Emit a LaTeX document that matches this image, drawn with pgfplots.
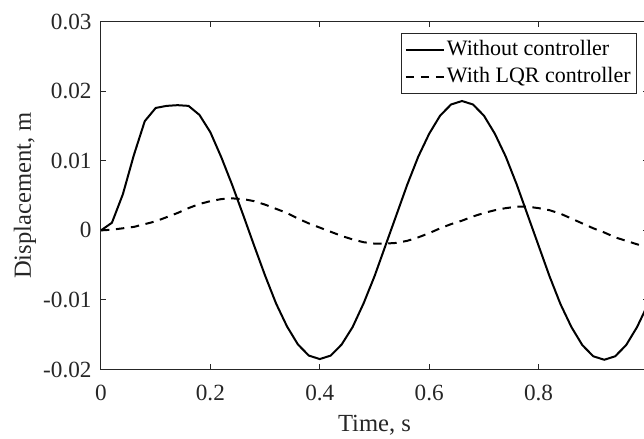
\documentclass[border=0pt]{standalone}
\usepackage{fontspec}
\setmainfont{Liberation Serif}
\usepackage{pgfplots}
\usepackage{pgfplotstable}
\pgfplotsset{compat=1.18}
\pgfplotstableread{
t d
0.00 0.0000
0.02 0.0011
0.04 0.0052
0.06 0.0108
0.08 0.0157
0.10 0.0176
0.12 0.0179
0.14 0.0180
0.16 0.0179
0.18 0.0166
0.20 0.0141
0.22 0.0105
0.24 0.0065
0.26 0.0022
0.28 -0.0022
0.30 -0.0065
0.32 -0.0105
0.34 -0.0138
0.36 -0.0164
0.38 -0.0180
0.40 -0.0185
0.42 -0.0180
0.44 -0.0164
0.46 -0.0139
0.48 -0.0105
0.50 -0.0066
0.52 -0.0022
0.54 0.0022
0.56 0.0066
0.58 0.0106
0.60 0.0139
0.62 0.0165
0.64 0.0181
0.66 0.0186
0.68 0.0181
0.70 0.0165
0.72 0.0139
0.74 0.0106
0.76 0.0066
0.78 0.0022
0.80 -0.0022
0.82 -0.0066
0.84 -0.0106
0.86 -0.0139
0.88 -0.0165
0.90 -0.0181
0.92 -0.0186
0.94 -0.0181
0.96 -0.0165
0.98 -0.0139
1.00 -0.0106
}\nocontrol
\pgfplotstableread{
t d
0.00 0.0000
0.02 0.0001
0.04 0.0003
0.06 0.0005
0.08 0.0009
0.10 0.0013
0.12 0.0019
0.14 0.0025
0.16 0.0032
0.18 0.0038
0.20 0.0042
0.22 0.0045
0.24 0.0046
0.26 0.0045
0.28 0.0042
0.30 0.0037
0.32 0.0031
0.34 0.0025
0.36 0.0017
0.38 0.0010
0.40 0.0004
0.42 -0.0002
0.44 -0.0008
0.46 -0.0013
0.48 -0.0017
0.50 -0.0019
0.52 -0.0019
0.54 -0.0018
0.56 -0.0015
0.58 -0.0010
0.60 -0.0004
0.62 0.0003
0.64 0.0009
0.66 0.0014
0.68 0.0020
0.70 0.0025
0.72 0.0029
0.74 0.0032
0.76 0.0034
0.78 0.0034
0.80 0.0032
0.82 0.0029
0.84 0.0024
0.86 0.0017
0.88 0.0010
0.90 0.0003
0.92 -0.0003
0.94 -0.0010
0.96 -0.0015
0.98 -0.0020
1.00 -0.0024
}\lqr
\begin{document}
\begin{tikzpicture}
\useasboundingbox (-50.5pt,-34.75pt) rectangle (271.5pt,184.75pt);
\begin{axis}[
  scale only axis, width=273.5pt, height=173.9pt,
  xmin=0, xmax=1, ymin=-0.02, ymax=0.03,
  scaled x ticks=false, scaled y ticks=false,
  xtick={0,0.2,0.4,0.6,0.8,1}, xticklabels={0,0.2,0.4,0.6,0.8,{}},
  ytick={-0.02,-0.01,0,0.01,0.02,0.03}, yticklabels={-0.02,-0.01,0,0.01,0.02,0.03},
  tick align=inside, major tick length=2.7pt,
  axis line style={black!85, line width=0.5pt},
  every tick/.style={black!85, line width=0.5pt},
  tick label style={font=\fontsize{11.6}{13}\selectfont, text=black!85},
  xticklabel style={yshift=-4.5pt},
  yticklabel style={xshift=-1.2pt},
  xlabel={Time, s}, ylabel={Displacement, m},
  every axis x label/.style={at={(axis description cs:0.5,0)}, yshift=-28pt, anchor=center,
    font=\fontsize{12.3}{14}\selectfont, text=black!85},
  every axis y label/.style={at={(axis description cs:0,0.5)}, xshift=-38pt, rotate=90, anchor=center,
    font=\fontsize{12.3}{14}\selectfont, text=black!85},
  legend style={at={(1,1)}, anchor=north east, xshift=-5.5pt, yshift=-5.6pt,
    draw=black!85, line width=0.4pt, font=\fontsize{11}{13}\selectfont,
    inner xsep=2pt, inner ysep=1.5pt,
    nodes={inner xsep=1pt, inner ysep=1.25pt, text height=8.5pt, text depth=2.5pt}},
  legend cell align=left,
  legend image code/.code={\draw[#1] (0pt,0pt) -- (19pt,0pt);},
]
\addplot[black, line width=1pt] table[x=t,y=d] {\nocontrol};
\addlegendentry{Without controller}
\addplot[black, line width=1pt, dash pattern=on 4.2pt off 3.3pt] table[x=t,y=d] {\lqr};
\addlegendentry{With LQR controller}
\end{axis}
\end{tikzpicture}
\end{document}
